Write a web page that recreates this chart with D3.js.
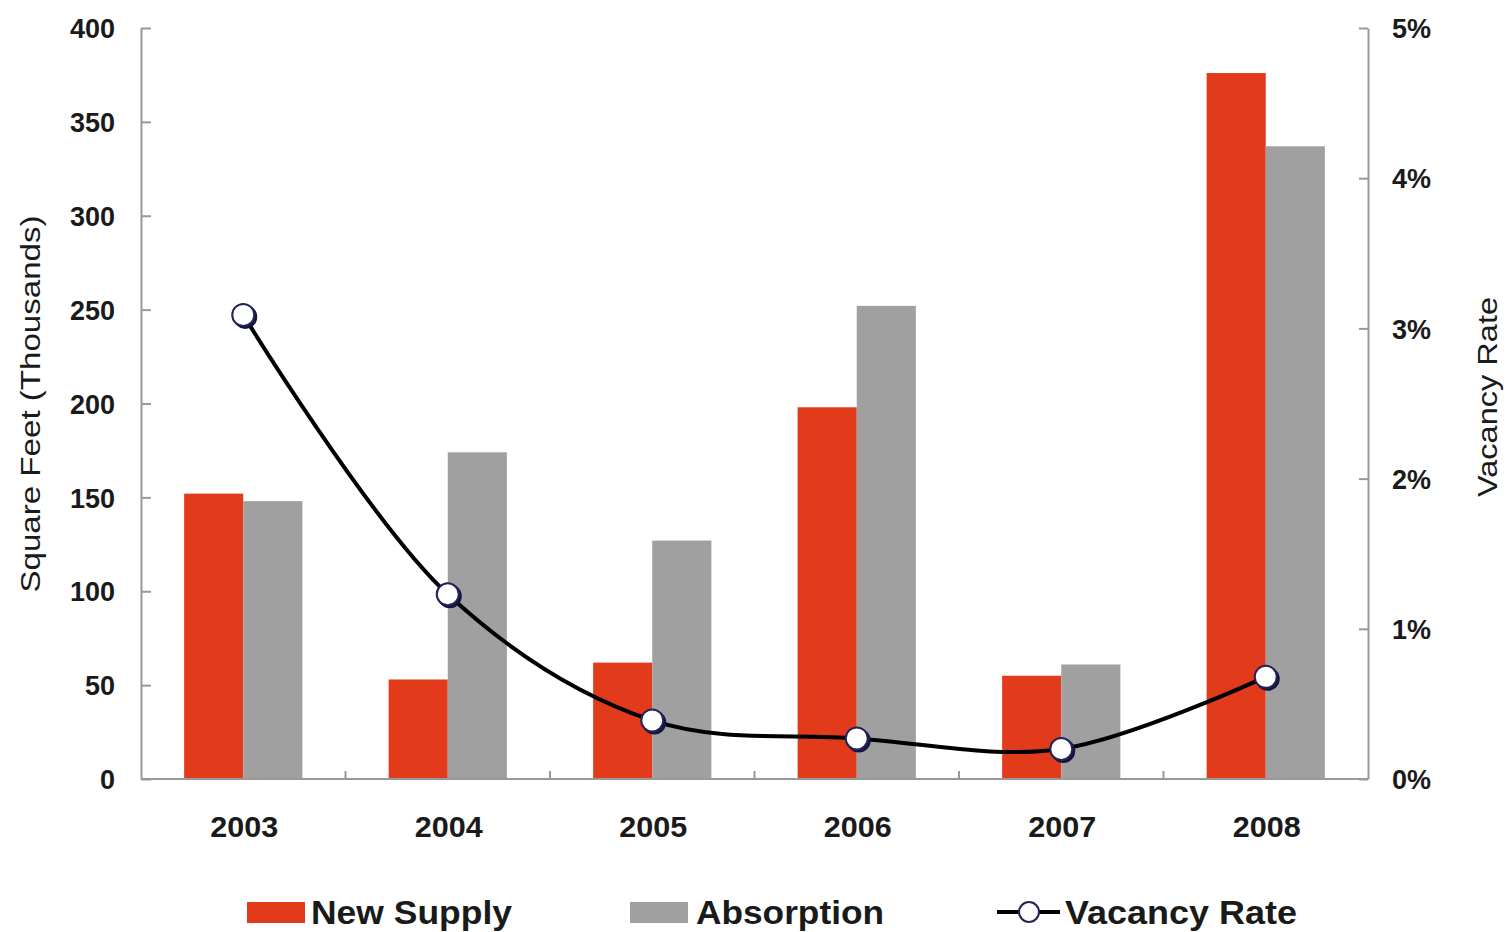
<!DOCTYPE html>
<html>
<head>
<meta charset="utf-8">
<script src="https://cdn.jsdelivr.net/npm/d3@7"></script>
<style>
  body { margin: 0; background: #fff; }
  text { font-family: "Liberation Sans", Arial, sans-serif; fill: #1a1a1a; }
</style>
</head>
<body>
<div id="chart"></div>
<script>
// chart values
const years = ['2003', '2004', '2005', '2006', '2007', '2008'];
const newSupply = [152, 53, 62, 198, 55, 376];
const absorption = [148, 174, 127, 252, 61, 337];
const vacancyRate = [3.09, 1.23, 0.39, 0.27, 0.2, 0.68];
const leftTicks = [0, 50, 100, 150, 200, 250, 300, 350, 400];
const rightTicks = [0, 1, 2, 3, 4, 5];

const width = 1506, height = 932;
const margin = { top: 28, right: 138, bottom: 153, left: 141 };

const svg = d3.select('#chart').append('svg')
    .attr('width', width)
    .attr('height', height);

const x = d3.scaleBand()
    .domain(years)
    .range([margin.left, width - margin.right]);

const xSub = d3.scaleBand()
    .domain(['supply', 'absorption'])
    .range([0, x.bandwidth()])
    .paddingOuter(0.73);

const y = d3.scaleLinear()
    .domain([0, 400])
    .range([height - margin.bottom, margin.top]);

const y2 = d3.scaleLinear()
    .domain([0, 5])
    .range([height - margin.bottom, margin.top]);

const axisColor = '#999';

// bars
const groups = svg.append('g').selectAll('g')
    .data(years)
    .enter().append('g')
    .attr('transform', function(d) { return 'translate(' + x(d) + ',0)'; });

groups.append('rect')
    .attr('x', xSub('supply'))
    .attr('width', xSub.bandwidth())
    .attr('y', function(d, i) { return y(newSupply[i]); })
    .attr('height', function(d, i) { return y(0) - y(newSupply[i]); })
    .style('fill', '#e23b1b');

groups.append('rect')
    .attr('x', xSub('absorption'))
    .attr('width', xSub.bandwidth())
    .attr('y', function(d, i) { return y(absorption[i]); })
    .attr('height', function(d, i) { return y(0) - y(absorption[i]); })
    .style('fill', '#a0a0a0');

// left axis
const leftAxis = svg.append('g')
    .attr('transform', 'translate(' + margin.left + ',0)')
    .call(d3.axisLeft(y).tickValues(leftTicks).tickSizeInner(-10).tickSizeOuter(0).tickPadding(26));
leftAxis.selectAll('line, path').style('stroke', axisColor).style('stroke-width', 2);
leftAxis.selectAll('text')
    .style('font-size', '27px')
    .style('font-weight', 'bold')
    .attr('dy', '0.36em');

// right axis
const rightAxis = svg.append('g')
    .attr('transform', 'translate(' + (width - margin.right) + ',0)')
    .call(d3.axisRight(y2).tickValues(rightTicks).tickFormat(function(d) { return d + '%'; })
        .tickSizeInner(-9).tickSizeOuter(0).tickPadding(24));
rightAxis.selectAll('line, path').style('stroke', axisColor).style('stroke-width', 2);
rightAxis.selectAll('text')
    .style('font-size', '27px')
    .style('font-weight', 'bold')
    .attr('dy', '0.36em');

// bottom axis
const bottom = svg.append('g')
    .attr('transform', 'translate(0,' + y(0) + ')');
bottom.append('line')
    .attr('x1', margin.left).attr('x2', width - margin.right)
    .style('stroke', axisColor).style('stroke-width', 2);
bottom.selectAll('line.tick')
    .data(years.slice(1))
    .enter().append('line')
    .attr('class', 'tick')
    .attr('x1', function(d) { return x(d); })
    .attr('x2', function(d) { return x(d); })
    .attr('y1', 0).attr('y2', -8)
    .style('stroke', axisColor).style('stroke-width', 2);
bottom.selectAll('text')
    .data(years)
    .enter().append('text')
    .attr('x', function(d) { return x(d) + x.bandwidth() / 2 + 1; })
    .attr('y', 58)
    .attr('text-anchor', 'middle')
    .attr('textLength', 68)
    .attr('lengthAdjust', 'spacingAndGlyphs')
    .style('font-size', '30px')
    .style('font-weight', 'bold')
    .text(function(d) { return d; });

// axis titles
svg.append('text')
    .attr('transform', 'translate(40,' + 404 + ') rotate(-90)')
    .attr('text-anchor', 'middle')
    .attr('textLength', 377)
    .attr('lengthAdjust', 'spacingAndGlyphs')
    .style('font-size', '27px')
    .text('Square Feet (Thousands)');

svg.append('text')
    .attr('transform', 'translate(1497,' + 397 + ') rotate(-90)')
    .attr('text-anchor', 'middle')
    .attr('textLength', 200)
    .attr('lengthAdjust', 'spacingAndGlyphs')
    .style('font-size', '27px')
    .text('Vacancy Rate');

// vacancy line
const cx = function(i) { return x(years[i]) + x.bandwidth() / 2; };
const line = d3.line()
    .x(function(d, i) { return cx(i); })
    .y(function(d) { return y2(d); })
    .curve(d3.curveCatmullRom.alpha(0.5));

svg.append('path')
    .datum(vacancyRate)
    .attr('d', line)
    .style('fill', 'none')
    .style('stroke', '#000')
    .style('stroke-width', 4);

const markers = svg.append('g').selectAll('g')
    .data(vacancyRate)
    .enter().append('g')
    .attr('transform', function(d, i) { return 'translate(' + cx(i) + ',' + y2(d) + ')'; });
markers.append('circle')
    .attr('cx', 2).attr('cy', 2).attr('r', 12)
    .style('fill', '#15153f');
markers.append('circle')
    .attr('r', 11)
    .style('fill', '#fff')
    .style('stroke', '#22225a')
    .style('stroke-width', 2);

// legend
const legend = svg.append('g').attr('transform', 'translate(0,912)');
legend.append('rect').attr('x', 247).attr('y', -10).attr('width', 58).attr('height', 21).style('fill', '#e23b1b');
legend.append('text').attr('x', 311).attr('y', 12)
    .attr('textLength', 201).attr('lengthAdjust', 'spacingAndGlyphs')
    .style('font-size', '33px').style('font-weight', 'bold').text('New Supply');
legend.append('rect').attr('x', 630).attr('y', -10).attr('width', 58).attr('height', 21).style('fill', '#a0a0a0');
legend.append('text').attr('x', 696).attr('y', 12)
    .attr('textLength', 188).attr('lengthAdjust', 'spacingAndGlyphs')
    .style('font-size', '33px').style('font-weight', 'bold').text('Absorption');
legend.append('line').attr('x1', 997).attr('x2', 1060).attr('y1', 0).attr('y2', 0)
    .style('stroke', '#000').style('stroke-width', 4);
legend.append('circle').attr('cx', 1029).attr('cy', 0).attr('r', 10)
    .style('fill', '#fff').style('stroke', '#22225a').style('stroke-width', 2);
legend.append('text').attr('x', 1065).attr('y', 12)
    .attr('textLength', 232).attr('lengthAdjust', 'spacingAndGlyphs')
    .style('font-size', '33px').style('font-weight', 'bold').text('Vacancy Rate');
</script>
</body>
</html>
